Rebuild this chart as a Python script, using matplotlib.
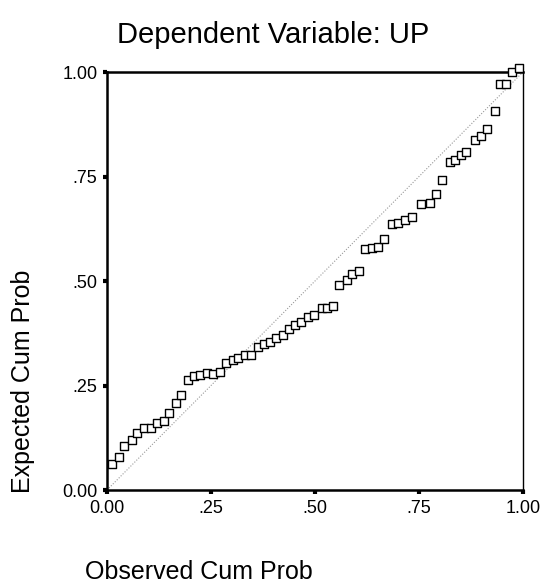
import matplotlib.pyplot as plt

# Normal P-P plot of regression standardized residual
observed = [0.012, 0.030, 0.042, 0.060, 0.072, 0.090, 0.106, 0.120, 0.136, 0.150,
            0.166, 0.178, 0.194, 0.210, 0.224, 0.240, 0.256, 0.272, 0.286, 0.302,
            0.316, 0.332, 0.346, 0.362, 0.378, 0.392, 0.406, 0.422, 0.438, 0.452,
            0.466, 0.482, 0.498, 0.516, 0.528, 0.544, 0.558, 0.576, 0.588, 0.606,
            0.620, 0.636, 0.652, 0.666, 0.686, 0.700, 0.716, 0.732, 0.756, 0.776,
            0.792, 0.806, 0.824, 0.836, 0.852, 0.864, 0.884, 0.898, 0.914, 0.932,
            0.944, 0.960, 0.974, 0.990]
expected = [0.062, 0.080, 0.105, 0.120, 0.136, 0.148, 0.149, 0.161, 0.164, 0.184,
            0.209, 0.227, 0.262, 0.273, 0.275, 0.279, 0.278, 0.283, 0.305, 0.310,
            0.315, 0.323, 0.323, 0.342, 0.350, 0.355, 0.363, 0.371, 0.385, 0.395,
            0.402, 0.415, 0.418, 0.435, 0.435, 0.441, 0.491, 0.503, 0.516, 0.524,
            0.576, 0.580, 0.581, 0.601, 0.637, 0.638, 0.646, 0.654, 0.684, 0.686,
            0.708, 0.742, 0.785, 0.790, 0.802, 0.808, 0.838, 0.848, 0.864, 0.907,
            0.971, 0.971, 1.000, 1.010]
ticks = [0.0, 0.25, 0.5, 0.75, 1.0]
tick_labels = ['0.00', '.25', '.50', '.75', '1.00']

plt.rcParams['font.family'] = ['Liberation Sans', 'DejaVu Sans']

fig = plt.figure(figsize=(5.47, 5.86), dpi=100)
ax = fig.add_axes([0.1956, 0.1638, 0.7605, 0.7133])

# reference diagonal
ax.plot([0, 1], [0, 1], color='#999999', linestyle=(0, (1, 1.5)), linewidth=0.8)
ax.scatter(observed, expected, marker='s', s=38, facecolor='white',
           edgecolor='black', linewidth=1.0, zorder=3, clip_on=False)

ax.set_xlim(0, 1)
ax.set_ylim(0, 1)
ax.set_xticks(ticks)
ax.set_xticklabels(tick_labels)
ax.set_yticks(ticks)
ax.set_yticklabels(tick_labels)
ax.tick_params(direction='out', length=3, width=3, labelsize=13, pad=4)

for side in ['left', 'bottom', 'top']:
    ax.spines[side].set_linewidth(1.8)
ax.spines['right'].set_linewidth(1.0)

fig.text(0.5, 1 - 35 / 586, 'Dependent Variable: UP', fontsize=21,
         ha='center', va='center')
fig.text(85 / 547, 1 - 579 / 586, 'Observed Cum Prob', fontsize=18,
         ha='left', va='baseline')
fig.text(23 / 547, 1 - 493 / 586, 'Expected Cum Prob', fontsize=18,
         rotation=90, ha='center', va='bottom')

fig.savefig('out.png', dpi=100)
plt.close(fig)
